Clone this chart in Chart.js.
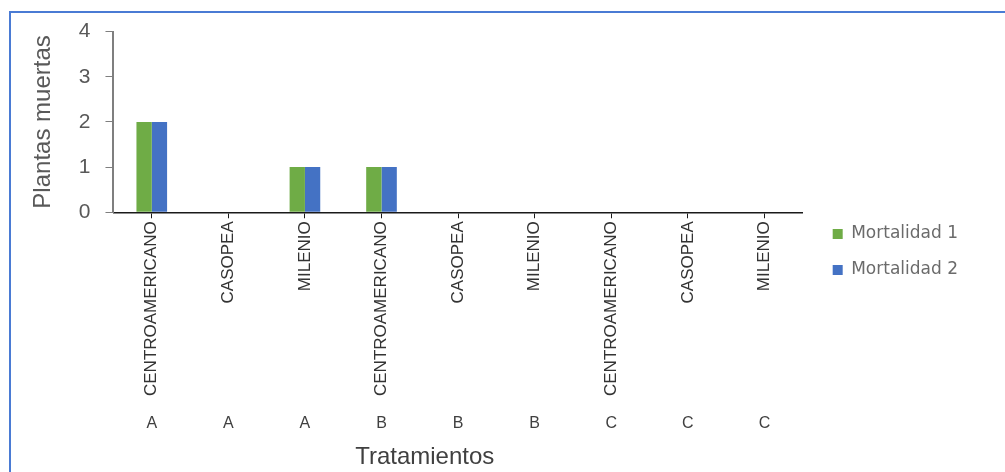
<!DOCTYPE html>
<html>
<head>
<meta charset="utf-8">
<script src="https://cdn.jsdelivr.net/npm/chart.js@4.4.1/dist/chart.umd.min.js"></script>
<style>
  html, body { margin: 0; padding: 0; background: #ffffff; }
  body { width: 1005px; height: 472px; overflow: hidden; position: relative; }
  #frame {
    position: absolute; left: 9px; top: 11px; width: 1100px; height: 520px;
    border-top: 2px solid #4a7bd4; border-left: 2px solid #4a7bd4;
  }
  #wrap { position: absolute; left: 11px; top: 4px; width: 994px; height: 468px; }
</style>
</head>
<body>
<div id="frame"></div>
<div id="wrap"><canvas id="chart"></canvas></div>
<script>
// Varieties per treatment and the treatment each one belongs to
const variedades = ['CENTROAMERICANO', 'CASOPEA', 'MILENIO',
                    'CENTROAMERICANO', 'CASOPEA', 'MILENIO',
                    'CENTROAMERICANO', 'CASOPEA', 'MILENIO'];
const tratamientos = ['A', 'A', 'A', 'B', 'B', 'B', 'C', 'C', 'C'];

// Dead plants counted at each evaluation
const mortalidad1 = [2, 0, 1, 1, 0, 0, 0, 0, 0];
const mortalidad2 = [2, 0, 1, 1, 0, 0, 0, 0, 0];

const yTicks = [0, 1, 2, 3, 4];

const FONT = '"Liberation Sans", Arial, sans-serif';

new Chart(document.getElementById('chart'), {
  type: 'bar',
  data: {
    labels: variedades,
    datasets: [
      { label: 'Mortalidad 1', data: mortalidad1, backgroundColor: '#6fac46', borderWidth: 0 },
      { label: 'Mortalidad 2', data: mortalidad2, backgroundColor: '#4472c4', borderWidth: 0 }
    ]
  },
  options: {
    responsive: true,
    maintainAspectRatio: false,
    animation: false,
    datasets: { bar: { categoryPercentage: 0.4, barPercentage: 1.0 } },
    layout: { padding: { top: 0, left: 18, right: 37, bottom: 0 } },
    plugins: {
      tooltip: { enabled: false },
      legend: {
        position: 'right',
        align: 'center',
        // blank heading only pushes the entries a little lower
        title: { display: true, text: '', padding: { top: 8, bottom: 8 }, font: { size: 10 } },
        labels: {
          boxWidth: 10, boxHeight: 10, padding: 19,
          color: '#6b6b6b',
          font: { family: '"DejaVu Sans", Verdana, sans-serif', size: 17 }
        }
      }
    },
    scales: {
      x: {
        type: 'category',
        position: 'bottom',
        border: { display: true, color: '#1a1a1a', width: 1.5 },
        grid: { display: true, drawOnChartArea: false, drawTicks: true, tickLength: 6, offset: false, color: '#1a1a1a' },
        ticks: {
          autoSkip: false, minRotation: 90, maxRotation: 90, padding: 3,
          color: '#333333', font: { family: FONT, size: 17 }
        }
      },
      grupo: {
        type: 'category',
        position: 'bottom',
        labels: tratamientos,
        offset: true,
        border: { display: false },
        grid: { display: false },
        ticks: { autoSkip: false, maxRotation: 0, padding: 7, color: '#404040', font: { family: FONT, size: 16 } },
        title: {
          display: true,
          // trailing blanks set the centred heading a little left of the axis middle
          text: 'Tratamientos' + ' '.repeat(10),
          color: '#404040',
          padding: { top: 3, bottom: 0 },
          font: { family: FONT, size: 24 }
        }
      },
      y: {
        min: 0, max: 4,
        afterBuildTicks: (axis) => { axis.ticks = yTicks.map(v => ({ value: v })); },
        border: { display: true, color: '#7f7f7f', width: 2 },
        grid: { display: true, drawOnChartArea: false, drawTicks: true, tickLength: 8, color: '#7f7f7f' },
        ticks: { padding: 15, color: '#595959', font: { family: FONT, size: 21 } },
        title: {
          display: true,
          text: 'Plantas muertas',
          color: '#595959',
          padding: { top: 0, bottom: 6 },
          font: { family: FONT, size: 24 }
        }
      },
      // empty right-hand gutter between the plot and the legend
      gutter: {
        type: 'linear',
        position: 'right',
        display: true,
        border: { display: false },
        grid: { display: false },
        ticks: { display: false },
        afterFit: (scale) => { scale.width = 11; }
      }
    }
  }
});
</script>
</body>
</html>
